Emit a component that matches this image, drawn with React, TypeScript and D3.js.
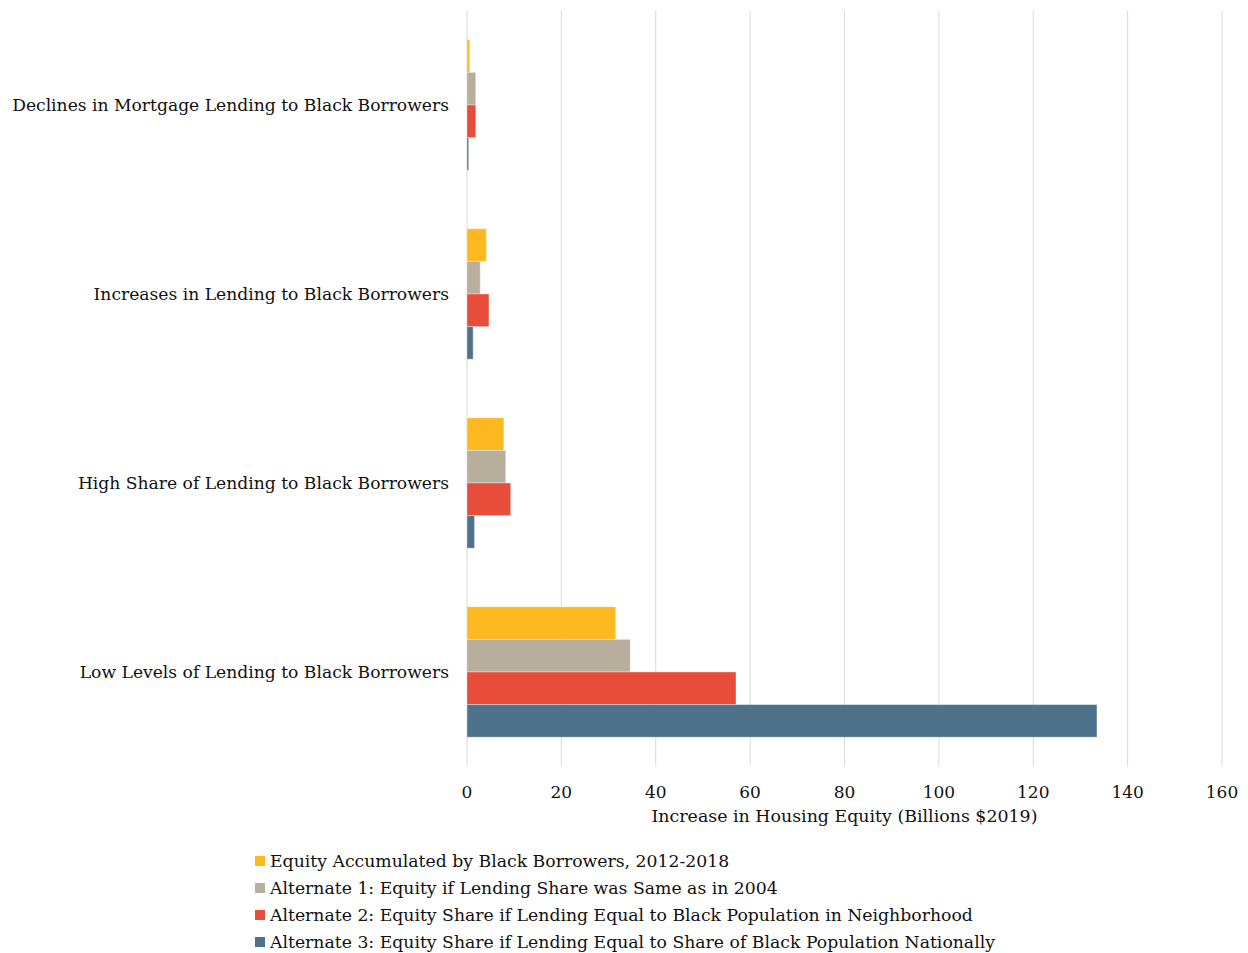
import React from "react";
import * as d3 from "d3";

const categories = [
  "Declines in Mortgage Lending to Black Borrowers",
  "Increases in Lending to Black Borrowers",
  "High Share of Lending to Black Borrowers",
  "Low Levels of Lending to Black Borrowers",
];

const seriesNames = [
  "Equity Accumulated by Black Borrowers, 2012-2018",
  "Alternate 1: Equity if Lending Share was Same as in 2004",
  "Alternate 2: Equity Share if Lending Equal to Black Population in Neighborhood",
  "Alternate 3: Equity Share if Lending Equal to Share of Black Population Nationally",
];

const equityAccumulated = [0.55, 4.1, 7.8, 31.5];
const alternate1 = [1.85, 2.8, 8.2, 34.6];
const alternate2 = [1.85, 4.65, 9.25, 57.0];
const alternate3 = [0.35, 1.3, 1.6, 133.5];

const seriesValues = [equityAccumulated, alternate1, alternate2, alternate3];
const seriesColors = ["#FDB71F", "#B7AF9C", "#E84C3A", "#4E7289"];

const xTicks = [0, 20, 40, 60, 80, 100, 120, 140, 160];

const FONT = "'DejaVu Serif', Georgia, serif";

export default function App() {
  const width = 1248;
  const height = 953;
  const left = 467;
  const right = 1222;
  const top = 10.5;
  const bottom = 766.5;

  const x = d3.scaleLinear().domain([0, 160]).range([left, right]);
  const y = d3
    .scaleBand<string>()
    .domain(categories)
    .range([top, bottom])
    .paddingInner(0.31)
    .paddingOuter(0.155);
  const inner = d3
    .scaleBand<number>()
    .domain(d3.range(seriesNames.length))
    .range([0, y.bandwidth()]);

  return (
    <svg
      width={width}
      height={height}
      style={{ position: "absolute", left: 0, top: 0 }}
      fontFamily={FONT}
    >
      <rect width={width} height={height} fill="#ffffff" />
      {xTicks.map((t) => (
        <line
          key={t}
          x1={x(t)}
          x2={x(t)}
          y1={top}
          y2={bottom}
          stroke="#D9D9D9"
          strokeWidth={1}
        />
      ))}
      {categories.map((c, ci) => (
        <g key={c}>
          {seriesValues.map((vals, si) => (
            <rect
              key={si}
              x={x(0)}
              y={(y(c) as number) + (inner(si) as number)}
              width={x(vals[ci]) - x(0)}
              height={inner.bandwidth()}
              fill={seriesColors[si]}
              stroke="#ffffff"
              strokeOpacity={0.35}
              strokeWidth={1}
            />
          ))}
          <text
            x={449}
            y={(y(c) as number) + y.bandwidth() / 2}
            textAnchor="end"
            dominantBaseline="central"
            fontSize={17.15}
            fill="#111111"
          >
            {c}
          </text>
        </g>
      ))}
      {xTicks.map((t) => (
        <text
          key={t}
          x={x(t)}
          y={792}
          textAnchor="middle"
          dominantBaseline="central"
          fontSize={17}
          fill="#111111"
        >
          {t}
        </text>
      ))}
      <text
        x={(left + right) / 2}
        y={816}
        textAnchor="middle"
        dominantBaseline="central"
        fontSize={17.4}
        fill="#111111"
      >
        Increase in Housing Equity (Billions $2019)
      </text>
      {seriesNames.map((s, i) => (
        <g key={s} transform={`translate(255, ${861 + i * 27})`}>
          <rect x={0} y={-5} width={10} height={10} fill={seriesColors[i]} />
          <text
            x={15}
            y={0}
            dominantBaseline="central"
            fontSize={17.25}
            fill="#111111"
          >
            {s}
          </text>
        </g>
      ))}
    </svg>
  );
}
